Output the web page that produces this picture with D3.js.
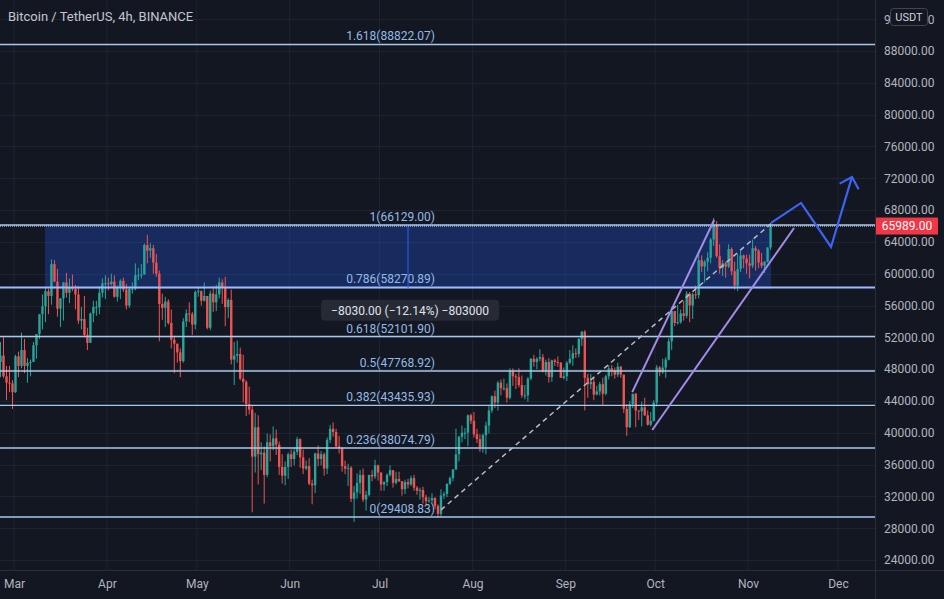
<!DOCTYPE html>
<html><head><meta charset="utf-8">
<script src="https://cdn.jsdelivr.net/npm/d3@7"></script>
<style>html,body{margin:0;padding:0;background:#131722;overflow:hidden}</style>
</head><body><svg id="c" width="944" height="599"></svg>
<script>
// ---- Data (daily BTC/USDT, thousands of USDT), first candle 2021-02-24 ----
const startDate = "2021-02-24";
const firstOpenK = 48.9;
const highsK = [
 51.4,52.0,48.4,48.4,46.6,
 49.8,50.2,52.6,51.8,49.4,49.2,51.4,52.4,54.9,57.4,58.2,58.1,61.8,61.7,60.6,56.9,58.9,60.1,59.4,59.9,58.6,58.4,55.8,57.2,53.2,55.1,56.6,56.6,58.4,59.4,59.8,
 59.5,60.0,59.8,58.5,59.3,59.5,58.7,58.2,58.9,61.3,60.7,61.2,63.8,64.9,63.8,63.6,62.5,60.4,57.5,57.1,56.8,55.5,52.2,51.2,50.6,54.4,55.5,56.4,55.2,57.9,
 58.4,57.9,58.9,57.2,57.9,58.4,58.6,59.5,59.3,59.6,56.9,58.0,51.4,51.6,50.7,49.8,46.6,45.8,43.5,42.5,42.2,38.8,38.3,39.9,39.8,40.8,40.4,38.9,37.3,36.4,37.5,
 37.9,38.2,39.5,39.3,37.9,36.5,36.8,34.1,37.5,38.4,37.7,37.5,39.4,41.0,41.3,40.5,39.6,38.2,36.5,36.1,35.8,33.3,34.9,35.3,35.5,32.7,34.7,35.3,36.6,36.0,
 35.0,33.9,34.9,35.9,35.3,35.1,35.1,33.9,34.1,34.2,34.6,34.7,33.3,33.1,33.2,32.2,31.9,32.4,31.9,31.0,32.9,32.6,33.6,34.5,35.4,40.5,39.6,40.9,40.6,42.3,42.4,
 42.6,40.5,39.8,39.9,41.4,43.4,44.7,45.3,46.5,46.7,46.8,46.2,48.1,48.1,47.4,48.1,47.2,46.0,47.0,49.4,49.8,49.5,50.5,49.9,49.2,49.4,49.2,49.3,49.6,48.9,48.2,
 49.0,50.4,51.0,50.6,51.9,52.8,52.9,47.4,47.4,47.0,45.9,46.4,46.9,47.3,48.5,48.5,48.2,48.8,48.4,47.3,43.6,44.0,44.9,45.0,42.8,43.9,44.4,42.8,42.6,44.1,
 48.5,48.4,49.3,49.5,51.9,55.8,55.3,56.1,55.5,56.6,57.8,57.7,57.6,58.5,62.9,62.3,61.7,62.7,64.5,67.0,66.6,63.7,61.7,61.5,63.7,63.3,61.5,62.5,62.9,62.4,62.4,
 62.4,64.3,63.5,63.1,62.6,61.6,63.3,66.129
];
const lowsK = [
 47.0,46.9,44.1,45.1,43.0,
 45.0,47.0,48.1,47.5,46.3,47.1,48.9,49.3,51.8,53.0,53.9,54.9,56.1,59.0,54.6,53.3,54.1,57.0,56.3,57.8,55.5,53.7,53.0,52.0,50.4,51.3,53.9,54.7,54.9,57.0,56.8,
 57.9,58.5,57.0,56.5,56.8,57.7,55.5,55.7,57.5,57.9,59.2,59.4,59.9,61.3,62.0,60.0,59.6,51.5,54.2,53.3,53.6,50.6,47.5,48.8,47.0,48.8,53.3,53.9,52.3,53.0,
 57.1,56.0,56.5,53.0,52.9,55.2,55.3,56.9,56.2,53.4,54.4,48.6,46.0,48.8,46.6,43.8,42.1,42.3,30.0,35.0,33.5,35.3,31.1,34.4,36.4,37.8,37.2,34.7,33.6,33.4,34.2,
 35.7,35.9,37.2,35.6,34.8,35.3,33.4,31.0,32.4,35.8,35.9,34.6,34.8,38.7,39.5,38.1,37.4,35.1,34.8,33.3,31.3,28.8,31.7,32.3,31.3,30.2,32.0,33.9,34.2,34.0,
 32.7,32.7,33.3,34.5,33.1,33.5,33.8,32.1,32.3,33.0,33.3,32.7,32.2,31.6,31.1,31.0,31.2,31.1,30.4,29.4,29.5,31.7,31.9,33.4,33.9,35.3,36.4,38.8,39.2,38.3,41.1,
 39.4,38.7,37.6,37.5,37.3,39.9,42.5,43.1,42.8,44.7,45.3,43.8,44.2,45.9,45.5,45.7,44.4,44.2,43.9,46.6,48.3,48.0,49.0,47.6,47.2,46.3,46.4,48.4,48.3,46.9,46.7,
 46.5,48.6,48.4,49.4,49.5,50.9,42.8,44.4,45.5,44.1,44.7,44.7,43.4,44.7,46.7,47.1,46.8,47.0,46.9,42.5,39.6,40.6,43.1,40.7,41.6,40.8,42.1,40.9,40.8,41.4,
 43.3,47.1,47.4,46.9,49.1,50.4,53.4,53.6,53.7,54.1,54.4,53.9,54.3,56.8,56.9,60.2,58.9,60.3,61.3,63.5,62.0,60.0,59.7,59.5,60.7,59.8,58.0,57.8,60.2,60.7,60.0,
 59.4,60.7,60.4,60.7,60.7,60.1,61.4,63.0
];
const closesK = [
 49.7,47.1,46.3,46.2,45.1,
 49.6,48.4,50.4,48.4,48.8,48.9,51.0,52.4,54.9,55.9,57.8,57.2,61.2,59.0,55.6,56.9,58.9,57.6,58.3,58.1,57.4,54.1,54.3,52.3,51.3,55.0,55.8,55.8,57.6,58.8,58.8,
 58.7,59.0,57.1,58.2,59.1,58.0,56.0,58.1,58.1,59.8,59.8,59.9,63.6,62.9,63.2,61.4,60.0,56.2,55.7,56.5,53.8,51.7,51.2,50.1,49.0,54.0,55.0,54.9,53.6,57.7,
 57.8,56.6,57.2,53.2,57.5,56.4,57.4,58.9,58.3,55.8,56.7,49.2,49.7,49.9,46.8,46.4,43.6,42.9,37.0,40.7,37.3,37.5,34.7,38.8,38.3,39.3,38.5,35.7,34.6,35.7,37.3,
 36.7,37.6,39.2,36.9,35.5,35.8,33.6,33.4,37.4,36.7,37.3,35.5,39.1,40.5,40.1,38.3,38.1,35.8,35.5,35.6,31.7,32.5,33.7,34.7,31.6,32.2,34.7,34.5,35.9,35.0,
 33.5,33.8,34.7,35.3,33.7,34.2,33.9,32.9,33.8,33.5,34.3,33.1,32.7,32.8,31.9,31.4,31.5,31.8,30.8,29.8,32.1,32.3,33.6,34.3,35.4,37.3,39.5,40.0,40.0,42.2,41.5,
 39.8,39.2,38.2,39.7,40.9,42.8,44.6,43.8,46.3,45.6,45.6,44.4,47.8,47.1,47.0,46.0,44.7,44.7,46.8,49.3,48.9,49.3,49.5,47.7,48.9,47.0,49.1,48.9,48.8,46.9,47.1,
 48.8,49.3,50.0,49.9,51.8,52.7,46.9,46.1,46.4,44.8,45.2,46.1,44.9,47.1,48.1,47.8,47.3,48.3,47.3,43.0,40.7,43.6,44.9,42.8,42.7,43.2,42.2,41.0,41.5,43.8,
 48.2,47.6,48.2,49.2,51.5,55.3,53.8,53.9,55.0,54.7,57.5,56.0,57.4,57.3,61.7,60.9,61.5,62.0,64.3,66.0,62.2,60.7,61.3,60.9,63.1,60.3,58.5,60.6,62.3,61.9,61.3,
 61.0,63.2,62.9,61.4,61.0,61.5,63.3,65.989
];
const priceTicks = [24000,28000,32000,36000,40000,44000,48000,52000,56000,60000,64000,68000,72000,76000,80000,84000,88000,92000];
const monthTicks = ["2021-03-01","2021-04-01","2021-05-01","2021-06-01","2021-07-01","2021-08-01","2021-09-01","2021-10-01","2021-11-01","2021-12-01"];
const fibLevels = ["0","0.236","0.382","0.5","0.618","0.786","1","1.618"];
const fibPrices = [29408.83,38074.79,43435.93,47768.92,52101.90,58270.89,66129.00,88822.07];
const rangeBox = {start:"2021-03-11T08:00Z", end:"2021-11-08T16:00Z", top:66129, bottom:58099};
const rangeLabel = "\u22128030.00 (\u221212.14%) \u2212803000";
const lastPrice = 65989;
const titleText = "Bitcoin / TetherUS, 4h, BINANCE";
const trendLine = [["2021-07-21T12:00Z",30300],["2021-11-08T16:00Z",66300]];
const channelUpper = [["2021-09-23T08:00Z",45100],["2021-10-20T16:00Z",66750]];
const channelLower = [["2021-09-30T00:00Z",40350],["2021-11-16T08:00Z",65750]];
const projection = [["2021-11-08T16:00Z",66380],["2021-11-18T16:00Z",68900],["2021-11-28T16:00Z",63360],["2021-12-05T16:00Z",72160]];

// ---- Build candles ----
const t0 = new Date(startDate + "T00:00Z");
const candles = closesK.map((c, i) => ({
  t: d3.utcHour.offset(d3.utcDay.offset(t0, i), 12),
  o: (i === 0 ? firstOpenK : closesK[i-1]) * 1000,
  h: highsK[i] * 1000, l: lowsK[i] * 1000, c: c * 1000
}));

const W = 944, H = 599, paneR = 875, paneB = 570;
const svg = d3.select("#c");
const x = d3.scaleUtc().domain([new Date("2021-03-01T00:00Z"), new Date("2021-12-01T00:00Z")]).range([14, 838]);
const y = d3.scaleLinear().domain([24000, 88000]).range([560, 51]);
const font = "Roboto, 'Noto Sans', sans-serif";

svg.append("rect").attr("width", W).attr("height", H).attr("fill", "#131722");
const defs = svg.append("defs");
defs.append("clipPath").attr("id","pane").append("rect").attr("x",0).attr("y",0).attr("width",paneR).attr("height",paneB);

const pane = svg.append("g").attr("clip-path","url(#pane)");
// grid
pane.append("g").selectAll("line").data(monthTicks).join("line")
  .attr("x1", d => x(new Date(d+"T00:00Z"))).attr("x2", d => x(new Date(d+"T00:00Z")))
  .attr("y1", 0).attr("y2", paneB).attr("stroke", "#1f2330").attr("stroke-width", 1);
pane.append("g").selectAll("line").data(priceTicks).join("line")
  .attr("x1", 0).attr("x2", paneR).attr("y1", d => Math.round(y(d))+0.5).attr("y2", d => Math.round(y(d))+0.5)
  .attr("stroke", "#1f2330").attr("stroke-width", 1);

// price range box
const rx0 = x(new Date(rangeBox.start)), rx1 = x(new Date(rangeBox.end));
pane.append("rect").attr("x", rx0).attr("y", y(rangeBox.top)).attr("width", rx1 - rx0)
  .attr("height", y(rangeBox.bottom) - y(rangeBox.top)).attr("fill", "rgba(41,98,255,0.28)");

// candles
const cg = pane.append("g");
const bw = 2.4;
cg.selectAll("line").data(candles).join("line")
  .attr("x1", d => x(d.t)).attr("x2", d => x(d.t))
  .attr("y1", d => y(d.h)).attr("y2", d => y(d.l))
  .attr("stroke", d => d.c >= d.o ? "#26a69a" : "#ef5350").attr("stroke-width", 1);
cg.selectAll("rect").data(candles).join("rect")
  .attr("x", d => x(d.t) - bw/2).attr("width", bw)
  .attr("y", d => y(Math.max(d.o, d.c)))
  .attr("height", d => Math.max(1, Math.abs(y(d.o) - y(d.c))))
  .attr("fill", d => d.c >= d.o ? "#26a69a" : "#ef5350");

// fib lines
fibPrices.forEach((p, i) => {
  const strong = fibLevels[i] === "0.786";
  pane.append("line").attr("x1", 0).attr("x2", paneR).attr("y1", y(p)).attr("y2", y(p))
    .attr("stroke", strong ? "#9dbcff" : "#a9c9ec").attr("stroke-width", strong ? 2 : 1.4);
  pane.append("text").attr("x", 435).attr("y", y(p) - 4).attr("text-anchor", "end")
    .attr("font-family", font).attr("font-size", 12).attr("fill", "#94bbe6")
    .text(fibLevels[i] + "(" + p.toFixed(2) + ")");
});

// range middle line + label
const rmx = (rx0 + rx1) / 2;
pane.append("line").attr("x1", rmx).attr("x2", rmx).attr("y1", y(rangeBox.top)).attr("y2", y(rangeBox.bottom))
  .attr("stroke", "#2962ff").attr("stroke-width", 1);
const lbl = pane.append("g");
const lt = lbl.append("text").attr("x", rmx + 2).attr("y", y(rangeBox.bottom) + 26).attr("text-anchor", "middle")
  .attr("font-family", font).attr("font-size", 12).attr("fill", "#e0e3eb").text(rangeLabel);
const bb = lt.node().getBBox();
lbl.insert("rect", "text").attr("x", bb.x - 10).attr("y", y(rangeBox.bottom) + 11).attr("width", bb.width + 20).attr("height", 21)
  .attr("rx", 4).attr("fill", "#262a35");

// current price dotted line
pane.append("line").attr("x1", 0).attr("x2", paneR).attr("y1", y(lastPrice)).attr("y2", y(lastPrice))
  .attr("stroke", "#d8dbe3").attr("stroke-width", 1).attr("stroke-dasharray", "1,1");

// trend dashed line
const lineGen = d3.line().x(d => x(new Date(d[0]))).y(d => y(d[1]));
pane.append("path").attr("d", lineGen(trendLine)).attr("fill", "none")
  .attr("stroke", "#b8bcc8").attr("stroke-width", 1.5).attr("stroke-dasharray", "5,4");
// channel
[channelUpper, channelLower].forEach(seg => {
  pane.append("path").attr("d", lineGen(seg)).attr("fill", "none")
    .attr("stroke", "#a58bea").attr("stroke-width", 2);
});
// projection path with arrow
pane.append("path").attr("d", lineGen(projection)).attr("fill", "none")
  .attr("stroke", "#3d63f5").attr("stroke-width", 2.2).attr("stroke-linejoin", "miter");
const pA = projection[projection.length-2], pB = projection[projection.length-1];
const ax = x(new Date(pB[0])), ay = y(pB[1]);
const ang = Math.atan2(y(pA[1]) - ay, x(new Date(pA[0])) - ax);
const arm = 14;
pane.append("path")
  .attr("d", `M${ax + arm*Math.cos(ang+Math.PI/4)},${ay + arm*Math.sin(ang+Math.PI/4)}L${ax},${ay}L${ax + arm*Math.cos(ang-Math.PI/4)},${ay + arm*Math.sin(ang-Math.PI/4)}`)
  .attr("fill", "none").attr("stroke", "#3d63f5").attr("stroke-width", 2.2);

// axes borders
svg.append("line").attr("x1", paneR + 0.5).attr("x2", paneR + 0.5).attr("y1", 0).attr("y2", H).attr("stroke", "#2a2e39");
svg.append("line").attr("x1", 0).attr("x2", W).attr("y1", paneB + 0.5).attr("y2", paneB + 0.5).attr("stroke", "#2a2e39");

// right axis
const yAxis = svg.append("g").attr("transform", `translate(${paneR},0)`)
  .call(d3.axisRight(y).tickValues(priceTicks).tickFormat(d3.format(".2f")).tickSize(0).tickPadding(9));
yAxis.select(".domain").remove();
yAxis.selectAll("text").attr("font-family", font).attr("font-size", 12).attr("fill", "#b2b5be");

// bottom axis
const xAxis = svg.append("g").attr("transform", `translate(0,${paneB})`)
  .call(d3.axisBottom(x).tickValues(monthTicks.map(d => new Date(d+"T00:00Z"))).tickFormat(d3.utcFormat("%b")).tickSize(0).tickPadding(9));
xAxis.select(".domain").remove();
xAxis.selectAll("text").attr("font-family", font).attr("font-size", 12).attr("fill", "#b2b5be");

// last price label
svg.append("rect").attr("x", paneR + 1).attr("y", y(lastPrice) - 8.5).attr("width", 62).attr("height", 17).attr("fill", "#f23645");
svg.append("text").attr("x", paneR + 32).attr("y", y(lastPrice) + 4).attr("text-anchor", "middle")
  .attr("font-family", font).attr("font-size", 12).attr("fill", "#ffffff").text(lastPrice.toFixed(2));

// USDT badge (covers the middle of the top, partly hidden tick label as in the reference)
svg.append("rect").attr("x", 890.5).attr("y", 8.5).attr("width", 37).attr("height", 17).attr("rx", 3)
  .attr("fill", "#131722").attr("stroke", "#434651");
svg.append("text").attr("x", 909).attr("y", 21).attr("text-anchor", "middle")
  .attr("font-family", font).attr("font-size", 11).attr("fill", "#d1d4dc").text("USDT");

// title
svg.append("text").attr("x", 8).attr("y", 21).attr("font-family", font).attr("font-size", 13)
  .attr("fill", "#c3c6ce").text(titleText);
</script></body></html>
